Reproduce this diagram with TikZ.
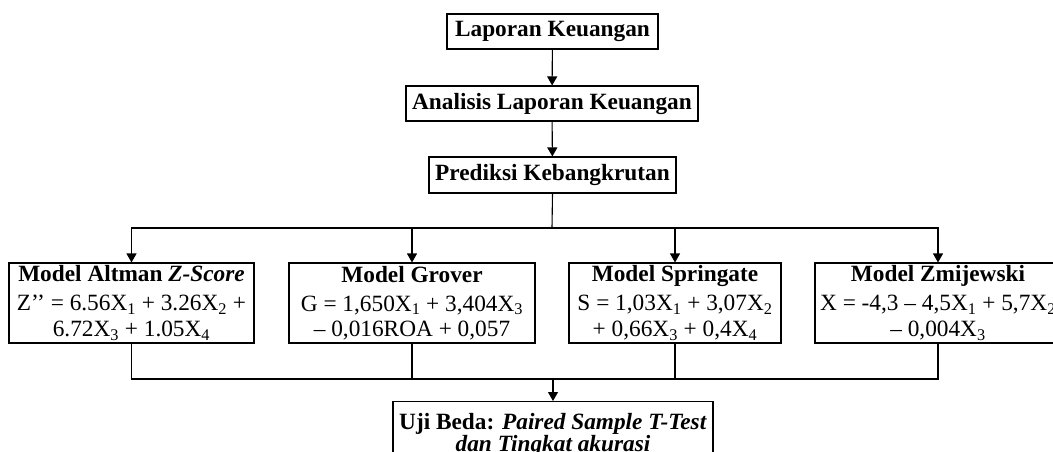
\documentclass[tikz,border=0pt]{standalone}
\usepackage{fontspec}
\setmainfont{Liberation Serif}
\usetikzlibrary{arrows.meta}

\tikzset{
  boxed/.style={draw=black, line width=1.1pt, inner sep=0pt, align=center},
  headbox/.style={boxed, font=\fontsize{23.3}{25}\selectfont\bfseries},
  modelbox/.style={boxed, minimum width=245pt, minimum height=80pt,
                   font=\fontsize{23.3}{25.3}\selectfont},
  link/.style={line width=1.1pt, draw=black},
  arr/.style={link, -{Triangle[length=9pt,width=10pt]}},
}

\begin{document}
\begin{tikzpicture}[x=1pt,y=-1pt]
\useasboundingbox (0,0) rectangle (1053,452);
\clip (0,0) rectangle (1053,452);

% top chain
\node[headbox, minimum width=211pt, minimum height=35pt] (lap) at (552.5,31.5) {Laporan Keuangan};
\node[headbox, minimum width=292pt, minimum height=35pt] (ana) at (552,103.5) {Analisis Laporan Keuangan};
\node[headbox, minimum width=247pt, minimum height=36pt] (pre) at (552.5,175) {Prediksi Kebangkrutan};

% prediction models
\node[modelbox] (alt) at (131.5,303) {\textbf{Model Altman \textit{Z-Score}}\\[3.7pt]
  Z’’ = 6.56X\textsubscript{1} + 3.26X\textsubscript{2} +\\
  6.72X\textsubscript{3} + 1.05X\textsubscript{4}};
\node[modelbox, minimum width=246pt] (gro) at (412,303) {\textbf{Model Grover}\\[3.7pt]
  G = 1,650X\textsubscript{1} + 3,404X\textsubscript{3}\\
  – 0,016ROA + 0,057};
\node[modelbox, minimum width=212pt] (spr) at (675,303) {\textbf{Model Springate}\\[3.7pt]
  S = 1,03X\textsubscript{1} + 3,07X\textsubscript{2}\\
  + 0,66X\textsubscript{3} + 0,4X\textsubscript{4}};
\node[modelbox, minimum width=246pt] (zmi) at (938,303) {\textbf{Model Zmijewski}\\[3.7pt]
  X = -4,3 – 4,5X\textsubscript{1} + 5,7X\textsubscript{2}\\
  – 0,004X\textsubscript{3}};

% difference test
\node[boxed, anchor=north, minimum width=320pt, inner ysep=12pt,
      font=\fontsize{23.3}{21}\selectfont\bfseries] (uji) at (553,401)
  {Uji Beda: \textit{Paired Sample T-Test}\\ \textit{dan Tingkat akurasi}};

% connectors
\draw[arr] (lap) -- (ana);
\draw[arr] (ana) -- (pre);
\coordinate (split) at (552,228);
\draw[link] (pre.south) -- (split);
\draw[arr] (split) -| (alt.north);
\draw[arr] (split) -| (gro.north);
\draw[arr] (split) -| (spr.north);
\draw[arr] (split) -| (zmi.north);

\coordinate (merge) at (553,379);
\draw[link] (alt.south) |- (merge);
\draw[link] (gro.south) |- (merge);
\draw[link] (spr.south) |- (merge);
\draw[link] (zmi.south) |- (merge);
\draw[arr] (merge) -- (uji.north);
\end{tikzpicture}
\end{document}
